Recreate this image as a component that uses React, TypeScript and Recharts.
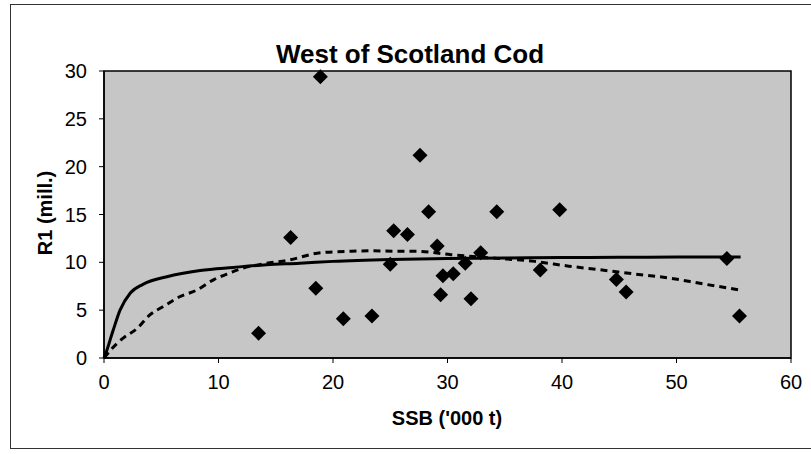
import { Customized, ReferenceArea, Scatter, ScatterChart, XAxis, YAxis } from "recharts";

// observed stock-recruit pairs
const ssb = [13.5, 16.3, 18.5, 18.9, 20.9, 23.4, 25.0, 25.3, 26.5, 27.6, 28.35, 29.1, 29.4, 29.6, 30.5, 31.55, 32.05, 32.9, 34.3, 38.1, 39.8, 44.75, 45.6, 54.4, 55.5];
const recruits = [2.6, 12.6, 7.3, 29.4, 4.1, 4.4, 9.8, 13.3, 12.9, 21.2, 15.3, 11.7, 6.6, 8.6, 8.8, 9.9, 6.2, 11.0, 15.3, 9.2, 15.5, 8.2, 6.9, 10.4, 4.4];

// fitted curve (solid)
const fitSsb = [0, 0.1, 0.8, 1.4, 2.3, 3.4, 5.5, 8.4, 11.3, 14.2, 17.1, 20, 25, 30, 35, 40, 45, 50, 55.6];
const fitR = [0, 0.3, 2.9, 5.0, 6.8, 7.7, 8.5, 9.15, 9.47, 9.75, 9.9, 10.1, 10.3, 10.4, 10.45, 10.5, 10.52, 10.55, 10.57];

// smoother (dashed)
const smoothSsb = [0, 0.7, 1.7, 2.9, 4.0, 5.2, 6.6, 8.1, 9.6, 11.0, 11.9, 14.2, 16.0, 18.9, 21.5, 23.3, 25.9, 27.4, 30.3, 33.9, 37.6, 40.6, 43.5, 46.2, 49.4, 52.3, 55.6];
const smoothR = [0, 1.0, 2.1, 3.1, 4.5, 5.4, 6.4, 7.1, 8.2, 8.9, 9.3, 9.9, 10.2, 11.0, 11.15, 11.2, 11.15, 11.15, 10.8, 10.45, 10.1, 9.6, 9.2, 8.8, 8.35, 7.75, 7.1];

const xTicks = [0, 10, 20, 30, 40, 50, 60];
const yTicks = [0, 5, 10, 15, 20, 25, 30];

const FONT = "'Liberation Sans', Arial, sans-serif";

const observed = ssb.map((x, i) => ({ x, y: recruits[i] }));
const fitted = fitSsb.map((x, i) => ({ x, y: fitR[i] }));
const smooth = smoothSsb.map((x, i) => ({ x, y: smoothR[i] }));

function Diamond(props: any) {
  const { cx, cy } = props;
  if (cx == null || cy == null) return <g />;
  const r = 7.5;
  return <polygon points={`${cx},${cy - r} ${cx + r},${cy} ${cx},${cy + r} ${cx - r},${cy}`} fill="#000" />;
}

const NoDot = () => <g />;

function Titles() {
  return (
    <g fontFamily={FONT} fontWeight="bold" fill="#000">
      <text x={410} y={63} fontSize={26} textAnchor="middle">West of Scotland Cod</text>
      <text x={447} y={425} fontSize={20} textAnchor="middle">SSB ('000 t)</text>
      <text x={45} y={213} fontSize={20} textAnchor="middle" dominantBaseline="central" transform="rotate(-90 45 213)">
        R1 (mill.)
      </text>
    </g>
  );
}

export default function App() {
  const tick = { fill: "#000", fontSize: 20, fontFamily: FONT };
  return (
    <div style={{ position: "fixed", left: 0, top: 0, width: 811, height: 454, background: "#fff", overflow: "hidden" }}>
      <div style={{ position: "absolute", left: 10, top: 4, width: 810, height: 443, border: "1px solid #333", borderRight: "none" }} />
      <div style={{ position: "absolute", left: 0, top: 0 }}>
        <ScatterChart width={811} height={454} margin={{ top: 71, right: 20, bottom: 56, left: 44 }}>
          <ReferenceArea x1={0} x2={60} y1={0} y2={30} fill="#c6c6c6" fillOpacity={1} stroke="#000" strokeWidth={1.5} />
          <XAxis
            type="number"
            dataKey="x"
            domain={[0, 60]}
            ticks={xTicks}
            height={40}
            tick={tick}
            tickSize={5}
            tickMargin={12}
            axisLine={{ stroke: "#000", strokeWidth: 1.5 }}
            tickLine={{ stroke: "#000" }}
          />
          <YAxis
            type="number"
            dataKey="y"
            domain={[0, 30]}
            ticks={yTicks}
            width={60}
            tick={tick}
            tickSize={5}
            tickMargin={12}
            axisLine={{ stroke: "#000", strokeWidth: 1.5 }}
            tickLine={{ stroke: "#000" }}
          />
          <Scatter
            data={fitted}
            shape={NoDot}
            line={{ stroke: "#000", strokeWidth: 3 }}
            lineJointType="monotoneX"
            isAnimationActive={false}
          />
          <Scatter
            data={smooth}
            shape={NoDot}
            line={{ stroke: "#000", strokeWidth: 3, strokeDasharray: "7 5" }}
            lineJointType="monotoneX"
            isAnimationActive={false}
          />
          <Scatter data={observed} shape={Diamond} isAnimationActive={false} />
          <Customized component={Titles} />
        </ScatterChart>
      </div>
    </div>
  );
}
